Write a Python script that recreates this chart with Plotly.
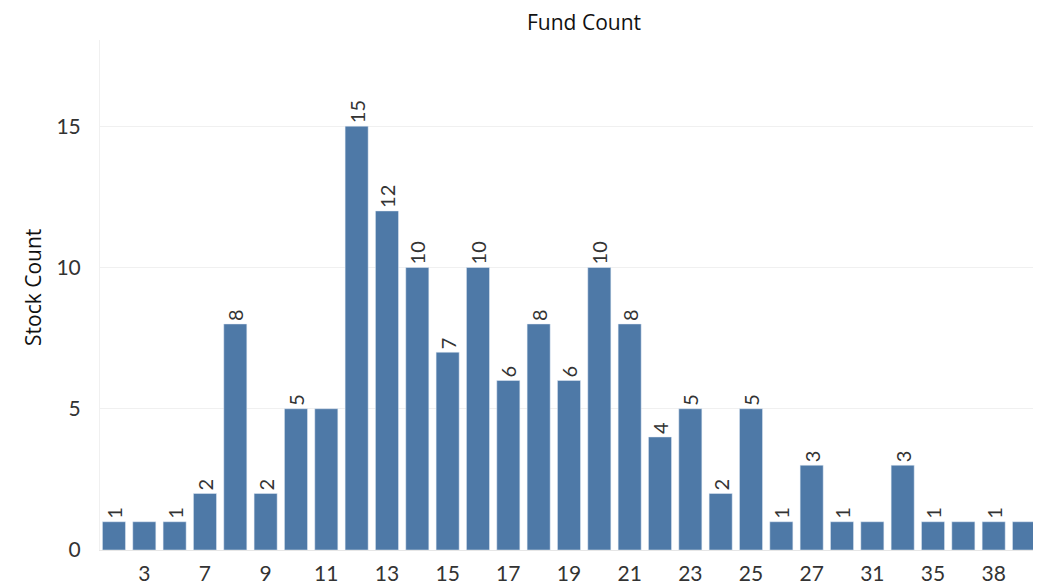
import plotly.graph_objects as go

fund_count = ["2", "3", "5", "7", "8", "9", "10", "11", "12", "13", "14", "15",
              "16", "17", "18", "19", "20", "21", "22", "23", "24", "25", "26",
              "27", "29", "31", "33", "35", "37", "38", "40"]
stock_count = [1, 1, 1, 2, 8, 2, 5, 5, 15, 12, 10, 7, 10, 6, 8, 6, 10, 8, 4, 5,
               2, 5, 1, 3, 1, 1, 3, 1, 1, 1, 1]
# labels Tableau left out because they would overlap
hidden_labels = ["3", "11", "31", "37", "40"]

labels = ["" if f in hidden_labels else str(v) for f, v in zip(fund_count, stock_count)]
tick_vals = fund_count[1::2]

# the page body has an 8px margin, so the figure is sized to fit inside the window
W, H = 1033, 575
L, T, B = 92, 32, 33
plot_w, plot_h = W - L, H - T - B

fig = go.Figure(go.Bar(
    x=fund_count,
    y=stock_count,
    text=labels,
    textposition="outside",
    textangle=-90,
    constraintext="none",
    cliponaxis=False,
    textfont=dict(family="Lato", size=20, color="#333333"),
    marker=dict(color="#4e79a7"),
    hoverinfo="x+y",
))

fig.update_layout(
    width=W,
    height=H,
    margin=dict(l=L, r=0, t=T, b=B),
    plot_bgcolor="white",
    paper_bgcolor="white",
    bargap=0.24,
    showlegend=False,
    font=dict(family="Lato", color="#333333"),
)

fig.update_xaxes(
    type="category",
    range=[-0.46, 30.56],
    tickvals=tick_vals,
    ticktext=tick_vals,
    tickfont=dict(size=21, color="#333333"),
    ticks="",
    ticklabelstandoff=5,
    showgrid=False,
    showline=True,
    linecolor="#e6e6e6",
    linewidth=1,
    automargin=False,
)

fig.update_yaxes(
    range=[0, 18.05],
    tickvals=[0, 5, 10, 15],
    tickfont=dict(size=21, color="#333333"),
    ticklabelstandoff=14,
    showgrid=True,
    gridcolor="#f0f0f0",
    zeroline=False,
    showline=True,
    linecolor="#f0f0f0",
    automargin=False,
)

# titles placed in figure pixels (window pixels minus the 8px body margin)
fig.add_annotation(
    text="Fund Count",
    xref="paper", yref="paper",
    x=(576 - L) / plot_w, y=(H - 14 - B) / plot_h,
    xanchor="center", yanchor="middle",
    showarrow=False,
    font=dict(family="Open Sans", size=21, color="#111111"),
)

fig.add_annotation(
    text="Stock Count",
    xref="paper", yref="paper",
    x=(25 - L) / plot_w, y=(H - 280 - B) / plot_h,
    xanchor="center", yanchor="middle",
    textangle=-90,
    showarrow=False,
    font=dict(family="Open Sans", size=21, color="#111111"),
)

fig.write_html("out.html")
